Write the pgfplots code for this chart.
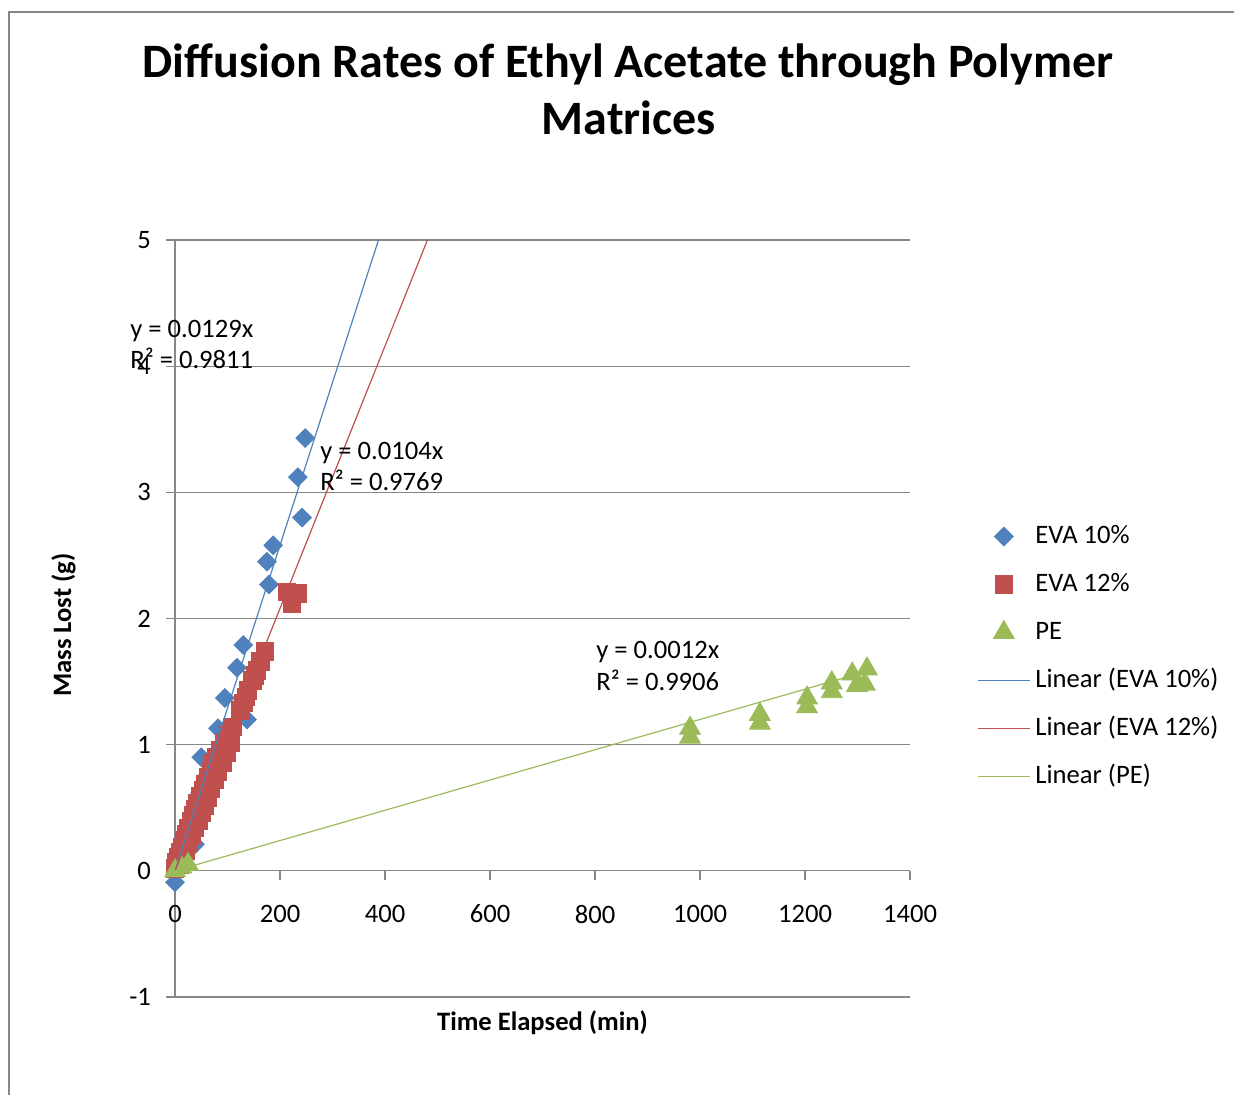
\documentclass[border=0pt]{standalone}
\usepackage{pgfplots}
\pgfplotsset{compat=1.18}
\usepackage{fontspec}
\setmainfont{Carlito}
\definecolor{cblue}{HTML}{4F81BD}
\definecolor{cred}{HTML}{C0504D}
\definecolor{cgreen}{HTML}{9BBB59}
\definecolor{gridc}{HTML}{878787}
\newcommand{\bodyfont}{\fontsize{13.3}{16}\selectfont}
\pgfplotsset{
  markleg/.style={legend image code/.code={\draw[##1] plot coordinates {(13pt,0pt)};}},
  lineleg/.style={legend image code/.code={\draw[##1] (0pt,0pt) -- (26pt,0pt);}},
}
\begin{document}
\begin{tikzpicture}
\useasboundingbox (0,0) rectangle (617pt,-547.5pt);
\draw[gridc, line width=1pt] (4.5pt,-547.5pt) -- (4.5pt,-5.8pt) -- (617pt,-5.8pt);
\begin{axis}[
 at={(87.5pt,-498.5pt)}, anchor=south west,
 scale only axis, width=367.5pt, height=378.5pt,
 xmin=0, xmax=1400, ymin=-1, ymax=5,
 axis x line=middle, axis y line=left,
 axis line style={-, draw=gridc, line width=0.6pt},
 xtick={0,200,...,1400}, ytick={-1,0,...,5},
 ymajorgrids, major grid style={draw=gridc, line width=0.6pt},
 tick align=outside, major tick length=4.5pt,
 tick style={draw=gridc, line width=0.6pt},
 hide obscured x ticks=false, hide obscured y ticks=false,
 /pgf/number format/assume math mode=true,
 /pgf/number format/1000 sep={},
 tick label style={font=\bodyfont, text=black},
 xticklabel style={yshift=-9pt},
 yticklabel style={xshift=-4pt},
 clip mode=individual,
 legend cell align=left,
 legend style={draw=none, fill=none, inner sep=0pt, outer sep=0pt,
   at={(1.0915,0.6255)}, anchor=north west, row sep=11pt, font=\bodyfont,
   nodes={inner sep=0pt, text height=10pt, text depth=3pt},
   /tikz/every odd column/.append style={column sep=2.5pt}},
]
\addplot[only marks, mark=square*, mark size=3.3pt, color=cblue,
  mark options={rotate=45, fill=cblue, draw=cblue}, markleg]
  table {
x y
0 -0.09
6 0.07
14 0.19
38 0.21
22 0.29
30 0.39
40 0.52
48 0.62
50 0.90
63 0.76
82 1.13
95 1.37
118 1.61
130 1.79
137 1.20
175 2.45
179 2.27
187 2.58
234 3.12
242 2.80
248 3.43
};
\addlegendentry{EVA 10\%}
\addplot[only marks, mark=square*, mark size=4.4pt, color=cred,
  mark options={fill=cred, draw=cred}, markleg]
  table {
x y
0 0.02
3 0.07
6 0.11
10 0.15
14 0.19
18 0.24
22 0.29
26 0.34
30 0.39
34 0.44
38 0.49
43 0.54
48 0.59
53 0.64
58 0.69
63 0.74
68 0.79
73 0.85
79 0.90
86 0.96
93 1.02
101 1.08
109 1.14
8 0.05
14 0.10
20 0.16
26 0.22
32 0.28
38 0.34
44 0.40
50 0.46
56 0.52
62 0.58
68 0.65
75 0.72
82 0.79
90 0.86
98 0.94
106 1.02
124 1.27
130 1.33
135 1.38
139 1.43
147 1.51
152 1.55
156 1.59
163 1.66
171 1.74
213 2.21
234 2.20
223 2.12
};
\addlegendentry{EVA 12\%}
\addplot[only marks, mark=triangle*, mark size=6pt, color=cgreen,
  mark options={fill=cgreen, draw=cgreen}, markleg]
  table {
x y
0 0.00
12 0.03
25 0.05
981 1.13
981 1.06
1114 1.24
1114 1.17
1204 1.37
1204 1.30
1251 1.49
1251 1.42
1290 1.56
1299 1.47
1318 1.60
1314 1.48
};
\addlegendentry{PE}
\addplot[cblue, line width=0.6pt, no marks, lineleg] coordinates {(0,0) (400,5.16)};
\addlegendentry{Linear (EVA 10\%)}
\addplot[cred, line width=0.6pt, no marks, lineleg] coordinates {(0,0) (500,5.2)};
\addlegendentry{Linear (EVA 12\%)}
\addplot[cgreen, line width=0.6pt, no marks, lineleg] coordinates {(0,0) (1316,1.579)};
\addlegendentry{Linear (PE)}
\end{axis}
\node[font=\fontsize{24}{29}\selectfont\bfseries, anchor=base] at (314pt,-39pt) {Diffusion Rates of Ethyl Acetate through Polymer};
\node[font=\fontsize{24}{29}\selectfont\bfseries, anchor=base] at (314.5pt,-67.5pt) {Matrices};
\node[font=\bodyfont\bfseries, anchor=base] at (271.25pt,-515pt) {Time Elapsed (min)};
\node[font=\bodyfont\bfseries, anchor=base, rotate=90] at (35.5pt,-312.5pt) {Mass Lost (g)};
\node[font=\bodyfont, anchor=base west, inner sep=0pt] at (65pt,-169pt) {y = 0.0129x};
\node[font=\bodyfont, anchor=base west, inner sep=0pt] at (65pt,-184.5pt) {R² = 0.9811};
\node[font=\bodyfont, anchor=base west, inner sep=0pt] at (160pt,-229.5pt) {y = 0.0104x};
\node[font=\bodyfont, anchor=base west, inner sep=0pt] at (160pt,-245pt) {R² = 0.9769};
\node[font=\bodyfont, anchor=base west, inner sep=0pt] at (298pt,-329pt) {y = 0.0012x};
\node[font=\bodyfont, anchor=base west, inner sep=0pt] at (298pt,-345pt) {R² = 0.9906};
\end{tikzpicture}
\end{document}
